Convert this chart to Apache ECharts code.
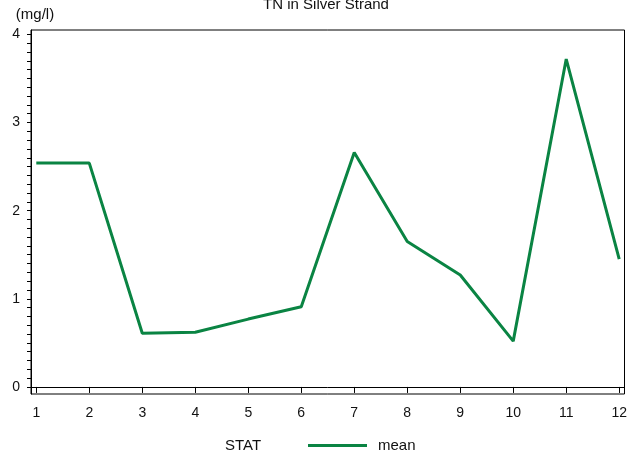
<!DOCTYPE html>
<html>
<head>
<meta charset="utf-8">
<script src="https://cdn.jsdelivr.net/npm/echarts@6/dist/echarts.min.js"></script>
<style>
html,body{margin:0;padding:0;background:#fff;}
#chart{width:630px;height:457px;}
</style>
</head>
<body>
<div id="chart"></div>
<script>
var months = [1, 2, 3, 4, 5, 6, 7, 8, 9, 10, 11, 12];
var meanValues = [2.54, 2.54, 0.61, 0.62, 0.77, 0.91, 2.66, 1.65, 1.27, 0.52, 3.72, 1.45];
var xTickLabels = [1, 2, 3, 4, 5, 6, 7, 8, 9, 10, 11, 12];
var yTickLabels = [0, 1, 2, 3, 4];
var seriesName = 'mean';
var legendTitle = 'STAT';
var chartTitle = 'TN in Silver Strand';
var yUnit = '(mg/l)';

var yMinorTicks = [];
for (var i = 0; i <= 40; i++) { yMinorTicks.push(i / 10); }

var data = months.map(function (m, i) { return [m, meanValues[i]]; });
var font = 'Liberation Sans, Arial, sans-serif';
var chart = echarts.init(document.getElementById('chart'), null, {renderer: 'canvas'});
chart.setOption({
  animation: false,
  backgroundColor: '#fff',
  title: {
    text: chartTitle, left: 321, textAlign: 'center', top: -8,
    textStyle: {fontFamily: font, fontSize: 15, fontWeight: 'normal', color: '#111'}
  },
  grid: {left: 31, right: 2, top: 30, bottom: 63, show: true, borderColor: '#000', borderWidth: 1, backgroundColor: 'transparent'},
  xAxis: {
    type: 'value', min: 0.9, max: 12.1,
    axisLine: {show: true, lineStyle: {color: '#000', width: 1}},
    axisTick: {show: true, customValues: xTickLabels, length: 6, inside: false, lineStyle: {color: '#000'}},
    axisLabel: {customValues: xTickLabels, margin: 12, fontFamily: font, fontSize: 14, color: '#111'},
    splitLine: {show: false}
  },
  yAxis: {
    type: 'value', min: -0.08, max: 4.05,
    name: yUnit, nameLocation: 'end', nameGap: 8,
    nameTextStyle: {fontFamily: font, fontSize: 15, color: '#111', align: 'center', padding: [0, 0, 0, 8]},
    axisLine: {show: true, lineStyle: {color: '#000', width: 1}},
    axisTick: {show: true, customValues: yMinorTicks, length: 4, lineStyle: {color: '#000'}},
    axisLabel: {customValues: yTickLabels, margin: 11, fontFamily: font, fontSize: 14, color: '#111'},
    splitLine: {show: false}
  },
  legend: {
    data: [{name: seriesName, icon: 'rect'}],
    left: 303, top: 433, itemWidth: 59, itemHeight: 3, itemGap: 10,
    textStyle: {fontFamily: font, fontSize: 15, color: '#111', padding: [0, 0, 0, 6]}
  },
  graphic: [{
    type: 'text', left: 225, top: 438,
    style: {text: legendTitle, font: '15px ' + font, fill: '#111'}
  }],
  series: [{
    name: seriesName, type: 'line', data: data,
    showSymbol: false, symbol: 'none',
    lineStyle: {color: '#0a8443', width: 3},
    itemStyle: {color: '#0a8443'}
  }]
});
</script>
</body>
</html>
